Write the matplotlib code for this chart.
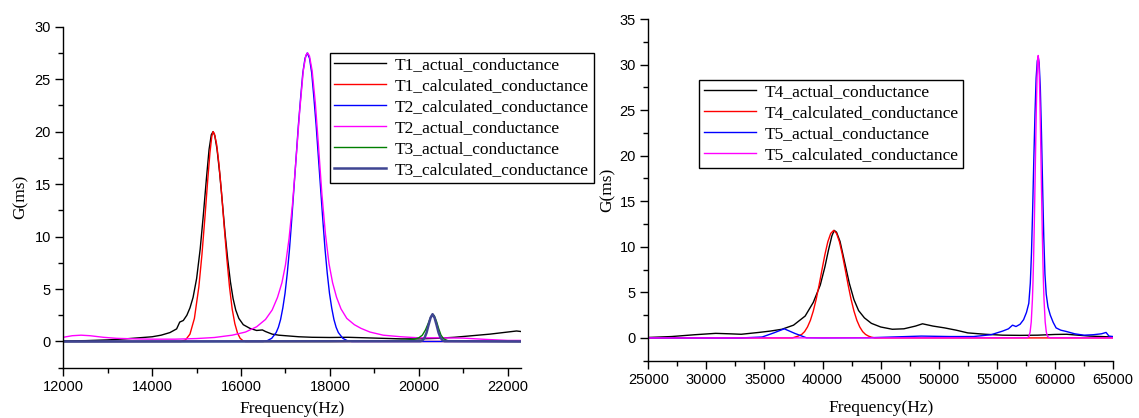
import matplotlib
matplotlib.use("Agg")
import matplotlib.pyplot as plt
from matplotlib.ticker import MultipleLocator

# ---------------- Left panel data ----------------
t1_act_f = [12000, 12500, 13000, 13400, 13700, 14000, 14200, 14400, 14550, 14620, 14700, 14780,
            14850, 14920, 15000, 15080, 15150, 15220, 15280, 15330, 15370, 15410, 15460, 15520,
            15580, 15640, 15700, 15760, 15820, 15880, 15950, 16050, 16200, 16350, 16480, 16550,
            16700, 16850, 17000, 17300, 17600, 18000, 18400, 18800, 19200, 19600, 20000, 20400,
            20800, 21200, 21600, 22000, 22200, 22300]
t1_act_g = [0.05, 0.08, 0.15, 0.25, 0.35, 0.45, 0.6, 0.85, 1.2, 1.85, 2.0, 2.5,
            3.2, 4.2, 6.0, 8.8, 12.0, 15.5, 18.3, 19.7, 20.0, 19.6, 18.3, 16.0,
            13.2, 10.3, 7.8, 5.7, 4.1, 3.0, 2.2, 1.6, 1.25, 1.05, 1.1, 0.95,
            0.7, 0.6, 0.55, 0.45, 0.4, 0.38, 0.4, 0.35, 0.3, 0.25, 0.25, 0.3,
            0.4, 0.55, 0.7, 0.9, 1.0, 0.95]

t1_calc_f = [12000, 14650, 14750, 14850, 14950, 15050, 15120, 15190, 15250, 15300, 15340, 15370,
             15400, 15450, 15500, 15560, 15620, 15680, 15740, 15800, 15860, 15920, 15980, 16050,
             16100, 22300]
t1_calc_g = [0, 0, 0.15, 0.7, 2.2, 5.2, 8.3, 12.0, 15.4, 18.0, 19.5, 20.0,
             19.8, 18.8, 17.0, 14.2, 11.0, 7.9, 5.2, 3.1, 1.7, 0.8, 0.3, 0.05,
             0, 0]

t2_calc_f = [12000, 16500, 16590, 16690, 16790, 16840, 16890, 16940, 16990, 17040, 17090, 17140,
             17190, 17240, 17290, 17340, 17390, 17440, 17490, 17540, 17590, 17640, 17690, 17740,
             17790, 17840, 17890, 17940, 17990, 18040, 18090, 18140, 18190, 18290, 18390, 18490,
             22300]
t2_calc_g = [0, 0, 0.08, 0.3, 0.85, 1.35, 2.1, 3.2, 4.6, 6.5, 8.8, 11.6,
             14.6, 17.6, 20.6, 23.2, 25.6, 27.0, 27.5, 27.0, 25.6, 23.2, 20.6, 17.6,
             14.6, 11.6, 8.8, 6.5, 4.6, 3.2, 2.1, 1.35, 0.85, 0.3, 0.08, 0,
             0]

t2_act_f = [12000, 12200, 12400, 12600, 12900, 13200, 13600, 14000, 14500, 15000, 15400, 15800,
            16100, 16350, 16550, 16700, 16820, 16920, 17000, 17080, 17160, 17240, 17320, 17400,
            17460, 17500, 17540, 17600, 17670, 17740, 17820, 17900, 17980, 18060, 18150, 18250,
            18380, 18550, 18700, 18900, 19200, 19600, 20000, 20500, 21000, 21500, 22000, 22300]
t2_act_g = [0.4, 0.55, 0.6, 0.55, 0.4, 0.3, 0.25, 0.22, 0.22, 0.28, 0.38, 0.6,
            0.9, 1.4, 2.1, 3.0, 4.2, 5.6, 7.3, 9.8, 13.2, 17.5, 22.0, 25.8,
            27.3, 27.5, 27.2, 25.8, 22.8, 18.8, 14.0, 10.2, 7.4, 5.6, 4.2, 3.1,
            2.2, 1.6, 1.25, 0.9, 0.6, 0.45, 0.35, 0.35, 0.32, 0.2, 0.1, 0.1]

t3_act_f = [12000, 18000, 18800, 19300, 19700, 19900, 20000, 20080, 20150, 20220, 20270, 20310,
            20350, 20400, 20450, 20500, 20560, 20650, 20800, 22300]
t3_act_g = [0.0, 0.0, 0.03, 0.06, 0.12, 0.22, 0.35, 0.6, 1.1, 1.8, 2.35, 2.6,
            2.45, 1.9, 1.2, 0.6, 0.25, 0.08, 0.03, 0.0]

t3_calc_f = [12000, 20040, 20085, 20130, 20175, 20220, 20265, 20310, 20355, 20400, 20445, 20490,
             20535, 20580, 22300]
t3_calc_g = [0, 0.03, 0.11, 0.35, 0.84, 1.58, 2.26, 2.6, 2.26, 1.58, 0.84, 0.35,
             0.11, 0.03, 0]

# ---------------- Right panel data ----------------
t4_act_f = [25000, 27000, 29000, 30800, 32000, 33000, 34500, 35500, 36500, 37500, 38500, 39200,
            39800, 40200, 40500, 40800, 41000, 41200, 41500, 41900, 42300, 42700, 43100, 43600,
            44200, 45000, 46000, 47000, 48000, 48600, 49500, 50500, 51500, 52500, 54000, 55500,
            57000, 58500, 60000, 61000, 62000, 63000, 64000, 65000]
t4_act_g = [0.05, 0.15, 0.35, 0.5, 0.45, 0.4, 0.6, 0.75, 0.95, 1.4, 2.4, 3.9,
            5.8, 7.8, 9.6, 11.2, 11.8, 11.6, 10.6, 8.3, 6.0, 4.2, 3.0, 2.2,
            1.6, 1.2, 0.95, 1.0, 1.3, 1.55, 1.3, 1.1, 0.85, 0.55, 0.4, 0.3,
            0.28, 0.3, 0.38, 0.4, 0.3, 0.2, 0.15, 0.1]

t4_calc_f = [25000, 37400, 37900, 38200, 38450, 38700, 38950, 39200, 39450, 39700, 39950, 40200,
             40450, 40700, 40950, 41200, 41450, 41700, 41950, 42200, 42450, 42700, 42950, 43200,
             43450, 43700, 43950, 44200, 44500, 65000]
t4_calc_g = [0, 0.0, 0.2, 0.38, 0.69, 1.2, 1.93, 2.95, 4.25, 5.8, 7.5, 9.15,
             10.55, 11.47, 11.8, 11.47, 10.55, 9.15, 7.5, 5.8, 4.25, 2.95, 1.93, 1.2,
             0.69, 0.38, 0.2, 0.08, 0.0, 0]

t5_act_f = [25000, 33000, 34800, 35800, 36700, 37600, 38600, 40000, 44000, 46000, 48500, 51000,
            53000, 54500, 55500, 56000, 56350, 56650, 57000, 57300, 57550, 57750, 57880, 57980,
            58080, 58180, 58280, 58380, 58480, 58560, 58640, 58740, 58840, 58940, 59040, 59140,
            59250, 59400, 59600, 59850, 60100, 60500, 61000, 61700, 62500, 63300, 64000, 64400,
            64650, 65000]
t5_act_g = [0.0, 0.0, 0.1, 0.55, 1.0, 0.5, 0.02, 0.0, 0.02, 0.1, 0.2, 0.15,
            0.15, 0.35, 0.75, 1.0, 1.4, 1.25, 1.5, 2.0, 2.8, 3.8, 6.0, 9.3,
            14.0, 19.5, 24.5, 28.5, 30.4, 30.8, 30.2, 27.5, 22.5, 16.5, 11.0, 7.0,
            4.8, 3.4, 2.5, 1.7, 1.1, 0.85, 0.7, 0.45, 0.3, 0.35, 0.45, 0.6,
            0.2, 0.15]

t5_calc_f = [25000, 57560, 57660, 57760, 57860, 57960, 58060, 58110, 58160, 58210, 58260, 58310,
             58360, 58410, 58460, 58510, 58560, 58610, 58660, 58710, 58760, 58810, 58860, 58910,
             58960, 59010, 59060, 59160, 59260, 59360, 59460, 59560, 65000]
t5_calc_g = [0, 0.01, 0.05, 0.18, 0.62, 1.75, 4.2, 6.1, 8.6, 11.6, 15.1, 18.8,
             22.5, 25.9, 28.6, 30.4, 31.0, 30.4, 28.6, 25.9, 22.5, 18.8, 15.1, 11.6,
             8.6, 6.1, 4.2, 1.75, 0.62, 0.18, 0.05, 0.01, 0]

left_labels = ["T1_actual_conductance", "T1_calculated_conductance", "T2_calculated_conductance",
               "T2_actual_conductance", "T3_actual_conductance", "T3_calculated_conductance"]
right_labels = ["T4_actual_conductance", "T4_calculated_conductance",
                "T5_actual_conductance", "T5_calculated_conductance"]

SERIF = ["Liberation Serif", "DejaVu Serif"]
SANS = ["Liberation Sans", "DejaVu Sans"]

fig = plt.figure(figsize=(11.39, 4.18), dpi=100)

axL = fig.add_axes([0.0556, 0.1203, 0.4018, 0.8158])
axR = fig.add_axes([0.5692, 0.1371, 0.4080, 0.8174])

lw = 1.0
axL.plot(t1_act_f, t1_act_g, color="#000000", lw=lw, label=left_labels[0])
axL.plot(t1_calc_f, t1_calc_g, color="#ff0000", lw=lw, label=left_labels[1])
axL.plot(t2_calc_f, t2_calc_g, color="#0000ff", lw=lw, label=left_labels[2])
axL.plot(t2_act_f, t2_act_g, color="#ff00ff", lw=lw, label=left_labels[3])
axL.plot(t3_act_f, t3_act_g, color="#007f00", lw=lw, label=left_labels[4])
axL.plot(t3_calc_f, t3_calc_g, color="#3f4592", lw=1.8, label=left_labels[5])

axR.plot(t4_act_f, t4_act_g, color="#000000", lw=lw, label=right_labels[0])
axR.plot(t4_calc_f, t4_calc_g, color="#ff0000", lw=lw, label=right_labels[1])
axR.plot(t5_act_f, t5_act_g, color="#0000ff", lw=lw, label=right_labels[2])
axR.plot(t5_calc_f, t5_calc_g, color="#ff00ff", lw=lw, label=right_labels[3])

axL.set_xlim(12000, 22300)
axL.set_ylim(-2.5, 30)
axL.xaxis.set_major_locator(MultipleLocator(2000))
axL.xaxis.set_minor_locator(MultipleLocator(1000))
axL.yaxis.set_major_locator(MultipleLocator(5))
axL.yaxis.set_minor_locator(MultipleLocator(2.5))

axR.set_xlim(25000, 65000)
axR.set_ylim(-2.5, 35)
axR.xaxis.set_major_locator(MultipleLocator(5000))
axR.xaxis.set_minor_locator(MultipleLocator(2500))
axR.yaxis.set_major_locator(MultipleLocator(5))
axR.yaxis.set_minor_locator(MultipleLocator(2.5))

for ax in (axL, axR):
    for s in ("top", "right"):
        ax.spines[s].set_visible(False)
    for s in ("left", "bottom"):
        ax.spines[s].set_linewidth(1.0)
    ax.tick_params(which="major", direction="out", length=6, width=1.0, labelsize=10.5, pad=3)
    ax.tick_params(which="minor", direction="out", length=3.5, width=1.0)
    for lab in ax.get_xticklabels() + ax.get_yticklabels():
        lab.set_family(SANS)
    ax.set_xlabel("Frequency(Hz)", family=SERIF, fontsize=12.5)
    ax.set_ylabel("G(ms)", family=SERIF, fontsize=12.5)

axL.xaxis.labelpad = 5
axR.xaxis.labelpad = 9
axL.yaxis.labelpad = 4
axR.yaxis.labelpad = 3

for ax, labels, anchor in ((axL, left_labels, (0.2897, 0.8732)), (axR, right_labels, (0.6140, 0.8086))):
    leg = ax.legend(loc="upper left", bbox_to_anchor=anchor, bbox_transform=fig.transFigure,
                    prop={"family": SERIF, "size": 12.5}, frameon=True, fancybox=False,
                    edgecolor="black", framealpha=1, handlelength=3.0, handletextpad=0.5,
                    borderpad=0.25, labelspacing=0.28, borderaxespad=0)
    leg.get_frame().set_linewidth(1.0)

fig.savefig("out.png", dpi=100)
